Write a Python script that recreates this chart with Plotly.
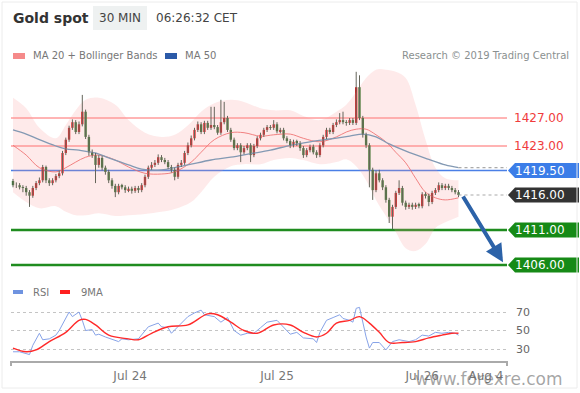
import plotly.graph_objects as go

W, H = 580, 393
FONT = "DejaVu Sans"

# ---------------- data ----------------
first_open = 1418.0
closes = [1417.4, 1417.4, 1417.1, 1417.0, 1416.4, 1415.9, 1417.0, 1417.7, 1418.1, 1420.0,
          1418.1, 1417.7, 1418.1, 1418.7, 1419.1, 1422.0, 1423.9, 1425.6, 1426.4, 1425.0,
          1426.1, 1427.9, 1424.3, 1422.1, 1421.7, 1420.3, 1421.3, 1419.9, 1419.3, 1418.1,
          1417.3, 1416.4, 1417.3, 1417.1, 1416.7, 1416.9, 1416.6, 1417.0, 1416.7, 1417.4,
          1418.6, 1419.9, 1420.3, 1420.6, 1421.4, 1421.0, 1420.7, 1420.0, 1419.6, 1418.6,
          1420.3, 1420.6, 1422.0, 1423.1, 1424.1, 1425.3, 1426.1, 1425.0, 1426.3, 1425.6,
          1426.0, 1425.7, 1424.9, 1426.4, 1427.0, 1425.3, 1423.9, 1422.7, 1423.1, 1422.1,
          1422.7, 1423.1, 1421.7, 1423.0, 1424.1, 1424.6, 1425.3, 1425.7, 1425.6, 1426.1,
          1425.1, 1425.3, 1424.1, 1423.7, 1423.1, 1423.6, 1423.4, 1422.7, 1421.7, 1422.4,
          1422.9, 1422.1, 1421.7, 1423.1, 1424.3, 1425.3, 1425.0, 1426.0, 1426.4, 1426.7,
          1426.4, 1426.3, 1426.7, 1426.3, 1431.4, 1427.0, 1424.6, 1423.1, 1419.6, 1416.7,
          1419.1, 1418.1, 1417.1, 1415.3, 1412.9, 1414.3, 1416.3, 1417.0, 1414.9, 1414.3,
          1414.6, 1414.3, 1414.6, 1414.4, 1416.1, 1415.9, 1415.0, 1416.3, 1416.7, 1417.4,
          1417.0, 1417.3, 1417.0, 1416.7, 1416.4, 1416.0]
highs = [1418.3, 1417.8, 1417.7, 1417.4, 1417.3, 1416.7, 1417.3, 1418.0, 1418.5, 1420.3,
         1420.2, 1418.4, 1418.4, 1419.0, 1419.5, 1422.3, 1424.2, 1425.9, 1426.8, 1426.7,
         1426.5, 1430.3, 1428.2, 1424.6, 1422.5, 1422.0, 1421.7, 1421.6, 1420.2, 1419.6,
         1418.4, 1417.6, 1417.6, 1417.6, 1417.4, 1417.2, 1417.2, 1417.3, 1417.3, 1417.7,
         1418.9, 1420.2, 1420.7, 1421.0, 1421.8, 1421.7, 1421.3, 1421.0, 1420.3, 1419.9,
         1420.6, 1421.0, 1422.3, 1423.5, 1424.5, 1425.6, 1426.5, 1426.4, 1426.6, 1426.6,
         1428.6, 1428.6, 1426.0, 1429.6, 1429.3, 1427.3, 1425.6, 1424.2, 1423.4, 1423.4,
         1423.0, 1423.4, 1423.4, 1423.3, 1424.4, 1424.9, 1425.6, 1426.0, 1426.0, 1426.7,
         1426.4, 1425.6, 1425.6, 1424.4, 1424.0, 1423.9, 1423.9, 1423.7, 1423.0, 1422.7,
         1423.2, 1423.2, 1422.4, 1423.4, 1424.6, 1425.6, 1425.6, 1426.3, 1426.8, 1427.7,
         1427.9, 1426.7, 1427.0, 1427.0, 1433.6, 1433.1, 1427.3, 1424.9, 1423.4, 1419.9,
         1419.5, 1419.6, 1418.4, 1417.4, 1415.6, 1414.6, 1416.6, 1418.1, 1417.3, 1415.2,
         1414.9, 1414.9, 1414.9, 1414.9, 1416.4, 1416.4, 1416.2, 1416.6, 1417.0, 1417.8,
         1417.7, 1417.6, 1417.6, 1417.3, 1417.0, 1416.7]
lows = [1417.1, 1417.0, 1416.8, 1416.4, 1415.9, 1414.3, 1415.6, 1416.7, 1417.4, 1417.8,
        1417.7, 1417.3, 1417.4, 1417.8, 1418.4, 1418.8, 1421.7, 1423.6, 1425.3, 1424.7,
        1424.7, 1425.8, 1424.0, 1421.6, 1421.3, 1417.7, 1419.9, 1419.5, 1418.9, 1417.7,
        1416.9, 1415.7, 1416.1, 1416.8, 1416.3, 1416.4, 1416.2, 1416.3, 1416.3, 1416.4,
        1417.1, 1418.3, 1419.6, 1420.0, 1420.3, 1420.7, 1420.4, 1419.7, 1419.2, 1418.1,
        1418.3, 1420.0, 1420.3, 1421.7, 1422.8, 1423.8, 1425.0, 1424.7, 1424.7, 1425.3,
        1425.3, 1425.4, 1424.6, 1424.6, 1426.1, 1425.0, 1423.6, 1422.4, 1422.4, 1420.7,
        1421.8, 1422.4, 1420.7, 1421.4, 1422.7, 1423.8, 1424.3, 1425.0, 1425.3, 1425.3,
        1424.8, 1424.8, 1423.8, 1423.4, 1422.7, 1422.8, 1423.0, 1422.3, 1421.3, 1421.4,
        1422.1, 1421.8, 1421.3, 1421.4, 1422.8, 1424.0, 1424.7, 1424.7, 1425.7, 1426.1,
        1426.1, 1425.9, 1426.0, 1426.0, 1426.0, 1426.7, 1424.2, 1422.7, 1417.1, 1415.3,
        1416.4, 1417.8, 1416.7, 1414.9, 1412.0, 1411.1, 1414.0, 1416.0, 1414.5, 1413.9,
        1414.0, 1413.9, 1414.0, 1414.1, 1414.1, 1415.5, 1414.4, 1414.7, 1416.0, 1416.4,
        1416.7, 1416.7, 1416.7, 1416.4, 1416.1, 1415.7]

band_idx = [0, 4, 8, 13, 16, 19, 22, 26, 31, 35, 40, 45, 49, 54, 57, 61, 66, 70, 75, 79,
            84, 88, 93, 98, 101, 104, 107, 110, 113, 116, 119, 122, 125, 128, 131, 135]
ma20 = [1423.1, 1421.7, 1419.9, 1419.3, 1419.9, 1420.7, 1421.4, 1421.7, 1421.0, 1420.0,
        1419.1, 1419.0, 1419.3, 1420.7, 1422.1, 1423.9, 1424.9, 1424.9, 1424.4, 1424.6,
        1424.7, 1424.1, 1423.6, 1424.3, 1425.0, 1425.4, 1425.4, 1424.6, 1423.6, 1422.1,
        1420.6, 1418.4, 1416.4, 1415.6, 1415.3, 1415.6]
bb_upper = [1429.9, 1428.4, 1425.6, 1424.1, 1426.0, 1428.1, 1429.6, 1429.9, 1428.9, 1426.7,
            1424.9, 1424.3, 1424.6, 1426.4, 1427.9, 1429.1, 1429.6, 1429.3, 1428.4, 1428.1,
            1428.1, 1427.3, 1426.7, 1427.9, 1428.9, 1430.7, 1432.7, 1433.9, 1433.9, 1433.6,
            1432.7, 1428.9, 1423.9, 1419.9, 1418.4, 1418.1]
bb_lower = [1416.4, 1415.0, 1414.1, 1414.4, 1413.6, 1413.1, 1413.1, 1413.4, 1413.0, 1413.1,
            1413.3, 1413.6, 1414.0, 1415.0, 1416.4, 1418.6, 1420.1, 1420.4, 1420.4, 1421.0,
            1421.3, 1421.0, 1420.4, 1420.7, 1421.1, 1420.1, 1418.1, 1415.3, 1413.0, 1410.7,
            1408.4, 1408.0, 1409.0, 1411.3, 1412.1, 1412.9]

ma50_idx = [0, 4, 8, 13, 16, 20, 25, 29, 35, 39, 45, 49, 54, 60, 66, 72, 78, 84, 90, 96,
            102, 106, 110, 114, 120, 126, 131, 135]
ma50 = [1425.3, 1424.7, 1423.9, 1423.0, 1422.6, 1422.4, 1422.0, 1421.3, 1420.3, 1419.7,
        1419.6, 1419.9, 1420.4, 1421.0, 1421.4, 1421.9, 1422.4, 1423.1, 1423.6, 1424.0,
        1424.4, 1424.7, 1424.3, 1423.3, 1422.1, 1421.1, 1420.3, 1419.9]

rsi_idx = [0, 2, 5, 6, 8, 9, 11, 13, 14, 16, 17, 18, 20, 21, 22, 24, 25, 26, 28, 32,
           33, 35, 38, 41, 44, 45, 47, 48, 51, 53, 55, 57, 58, 61, 63, 65, 67, 69, 71, 73,
           75, 77, 80, 82, 84, 86, 88, 91, 92, 93, 95, 97, 99, 100, 102, 103, 104, 105, 106, 107,
           108, 109, 111, 113, 115, 117, 120, 122, 124, 126, 128, 130, 132, 134, 135]
rsi = [27, 27, 24, 34, 47, 40, 41, 45, 50, 64, 70, 65, 70, 61, 50, 51, 45, 46, 43, 38,
       41, 40, 41, 54, 58, 54, 53, 47, 58, 65, 69, 72, 67, 65, 59, 64, 50, 45, 47, 47,
       53, 59, 61, 54, 46, 48, 42, 41, 37, 48, 61, 64, 67, 63, 61, 59, 74, 75, 58, 43,
       31, 37, 37, 29, 38, 40, 38, 40, 45, 44, 48, 47, 48, 47, 45]
ma9_idx = [0, 4, 7, 11, 16, 20, 22, 25, 29, 35, 38, 42, 47, 53, 59, 62, 66, 70, 74, 79,
           84, 88, 92, 95, 98, 102, 105, 108, 111, 114, 118, 122, 126, 130, 133, 135]
rsi_ma9 = [31, 27, 29, 38, 48, 61, 62, 56, 45, 41, 40, 47, 54, 56, 68, 67, 59, 50, 47, 56,
           56, 48, 43, 47, 58, 61, 65, 58, 48, 37, 37, 38, 42, 45, 47, 47]
rsi_levels = [30, 50, 70]

levels = [1427.0, 1423.0, 1419.5, 1416.0, 1411.0, 1406.0]
level_labels = ["1427.00", "1423.00", "1419.50", "1416.00", "1411.00", "1406.00"]

tick_pos = [35.5, 80, 124, 143.3]
tick_text = ["Jul 24", "Jul 25", "Jul 26", "Aug 4"]

arrow_from = (136.1, 1416.0)
arrow_to = (148.5, 1406.4)

# ---------------- styling helpers ----------------
def px(x):
    return x / W

def py(y):
    return 1 - y / H

N = len(closes)
idx = list(range(N))
opens = [first_open] + closes[:-1]

UP = "#e3161b"
DOWN = "#2d7a2d"

fig = go.Figure()

# Bollinger band fill
fig.add_trace(go.Scatter(x=band_idx, y=bb_upper, mode="lines", line=dict(width=0, shape="spline"),
                         hoverinfo="skip", showlegend=False, xaxis="x", yaxis="y"))
fig.add_trace(go.Scatter(x=band_idx, y=bb_lower, mode="lines", line=dict(width=0, shape="spline"),
                         fill="tonexty", fillcolor="rgba(248,150,150,0.2)",
                         hoverinfo="skip", showlegend=False, xaxis="x", yaxis="y"))

# level lines (drawn under candles)
level_styles = [("#ff6a6a", 1), ("#ff9a9a", 1.6), ("#4a7fe6", 1.6), None, ("#1f8c1f", 2.6), ("#1f8c1f", 2.6)]
shapes = []
for lv, st in zip(levels, level_styles):
    if st is None:
        continue
    shapes.append(dict(type="line", xref="x domain", yref="y", x0=0, x1=1, y0=lv, y1=lv,
                       line=dict(color=st[0], width=st[1]), layer="below"))

# MA lines
fig.add_trace(go.Scatter(x=band_idx, y=ma20, mode="lines",
                         line=dict(color="rgba(238,110,110,0.85)", width=1, shape="spline"),
                         hoverinfo="skip", showlegend=False, xaxis="x", yaxis="y"))
fig.add_trace(go.Scatter(x=ma50_idx, y=ma50, mode="lines",
                         line=dict(color="#8399b3", width=1.3, shape="spline"),
                         hoverinfo="skip", showlegend=False, xaxis="x", yaxis="y"))

# wicks
wx, wy = [], []
for i in idx:
    wx += [i, i, None]
    wy += [lows[i], highs[i], None]
fig.add_trace(go.Scatter(x=wx, y=wy, mode="lines", line=dict(color="#65655a", width=1),
                         hoverinfo="skip", showlegend=False, xaxis="x", yaxis="y"))

# bodies
colors = [UP if c >= o else DOWN for o, c in zip(opens, closes)]
fig.add_trace(go.Bar(x=idx, y=[c - o for o, c in zip(opens, closes)], base=opens, width=0.72,
                     marker=dict(color=colors, line=dict(width=0)),
                     hoverinfo="skip", showlegend=False, xaxis="x", yaxis="y"))

# dotted extensions to labels
shapes.append(dict(type="line", xref="x", yref="y", x0=idx[-1], x1=149.7, y0=ma50[-1], y1=ma50[-1],
                   line=dict(color="#aaaaaa", width=1.2, dash="dot")))
shapes.append(dict(type="line", xref="x", yref="y", x0=idx[-1], x1=149.7, y0=closes[-1], y1=closes[-1],
                   line=dict(color="#aaaaaa", width=1.2, dash="dot")))

# RSI
fig.add_trace(go.Scatter(x=rsi_idx, y=rsi, mode="lines", line=dict(color="#87a3e8", width=1),
                         hoverinfo="skip", showlegend=False, xaxis="x2", yaxis="y2"))
fig.add_trace(go.Scatter(x=ma9_idx, y=rsi_ma9, mode="lines",
                         line=dict(color="#ff2a2a", width=1.4, shape="spline"),
                         hoverinfo="skip", showlegend=False, xaxis="x2", yaxis="y2"))

annotations = []

# right labels
half = 1.08
box_colors = [None, None, "#3b7de8", "#333333", "#168a16", "#168a16"]
for lv, lab, bc in zip(levels, level_labels, box_colors):
    if bc is None:
        annotations.append(dict(xref="paper", yref="y", x=px(539), y=lv, text=lab, showarrow=False,
                                font=dict(family=FONT, size=12, color="#f03c3c"), xanchor="center"))
    else:
        path = (f"M {px(508)} {lv} L {px(515)} {lv + half} L {px(579)} {lv + half} "
                f"L {px(579)} {lv - half} L {px(515)} {lv - half} Z")
        shapes.append(dict(type="path", xref="paper", yref="y", path=path, fillcolor=bc,
                           line=dict(width=0)))
        annotations.append(dict(xref="paper", yref="y", x=px(540), y=lv, text=lab, showarrow=False,
                                font=dict(family=FONT, size=12, color="white"), xanchor="center"))

# forecast arrow
annotations.append(dict(xref="x", yref="y", axref="x", ayref="y", x=arrow_to[0], y=arrow_to[1],
                        ax=arrow_from[0], ay=arrow_from[1], showarrow=True, arrowhead=2,
                        arrowsize=0.9, arrowwidth=4, arrowcolor="#2c62a8", text=""))

# header
shapes.append(dict(type="rect", xref="paper", yref="paper", x0=px(93), x1=px(147), y0=py(30), y1=py(6),
                   fillcolor="#eef1f1", line=dict(width=0)))
annotations += [
    dict(xref="paper", yref="paper", x=px(11), y=py(18), text="<b>Gold spot</b>", showarrow=False,
         xanchor="left", yanchor="middle", font=dict(family=FONT, size=14, color="#333333")),
    dict(xref="paper", yref="paper", x=px(120), y=py(18), text="30 MIN", showarrow=False,
         xanchor="center", yanchor="middle", font=dict(family=FONT, size=12, color="#444444")),
    dict(xref="paper", yref="paper", x=px(154), y=py(18), text="06:26:32 CET", showarrow=False,
         xanchor="left", yanchor="middle", font=dict(family=FONT, size=12, color="#444444")),
    dict(xref="paper", yref="paper", x=px(31), y=py(56), text="MA 20 + Bollinger Bands", showarrow=False,
         xanchor="left", yanchor="middle", font=dict(family=FONT, size=10, color="#777777")),
    dict(xref="paper", yref="paper", x=px(183), y=py(56), text="MA 50", showarrow=False,
         xanchor="left", yanchor="middle", font=dict(family=FONT, size=10, color="#777777")),
    dict(xref="paper", yref="paper", x=px(571), y=py(56), text="Research © 2019 Trading Central",
         showarrow=False, xanchor="right", yanchor="middle",
         font=dict(family=FONT, size=10, color="#8a9090")),
    dict(xref="paper", yref="paper", x=px(31), y=py(292), text="RSI", showarrow=False,
         xanchor="left", yanchor="middle", font=dict(family=FONT, size=10, color="#777777")),
    dict(xref="paper", yref="paper", x=px(79), y=py(292), text="9MA", showarrow=False,
         xanchor="left", yanchor="middle", font=dict(family=FONT, size=10, color="#777777")),
    dict(xref="paper", yref="paper", x=px(489), y=py(379), text="www.forexre.com", showarrow=False,
         xanchor="center", yanchor="middle",
         font=dict(family=FONT, size=17, color="rgba(105,105,105,0.6)")),
]
for x0, x1, y0, y1, c in [(13, 25, 53, 59, "#f58a8a"), (165, 177, 53, 59, "#2b5aa8"),
                          (13, 23, 290, 294, "#6f93e0"), (60, 70, 290, 294, "#ff2020")]:
    shapes.append(dict(type="rect", xref="paper", yref="paper", x0=px(x0), x1=px(x1), y0=py(y1), y1=py(y0),
                       fillcolor=c, line=dict(width=0)))

# axis end ticks + frame
for xx in (11, 507):
    shapes.append(dict(type="line", xref="paper", yref="paper", x0=px(xx), x1=px(xx), y0=py(361), y1=py(366),
                       line=dict(color="#aaaaaa", width=2)))
shapes.append(dict(type="rect", xref="paper", yref="paper", x0=px(2), x1=px(577), y0=py(388), y1=py(2),
                   line=dict(color="#ececec", width=1)))

x_range = [(11 - 13) / 3.3, (507 - 13) / 3.3]
xdom = [px(11), px(507)]

fig.update_layout(
    width=W, height=H, margin=dict(l=0, r=0, t=0, b=0),
    paper_bgcolor="white", plot_bgcolor="rgba(0,0,0,0)",
    barmode="overlay", showlegend=False,
    xaxis=dict(domain=xdom, range=x_range, visible=False, fixedrange=True),
    yaxis=dict(domain=[py(275), py(65)], range=[1404.571, 1434.571], visible=False),
    xaxis2=dict(domain=xdom, range=x_range, anchor="y2", showgrid=False, zeroline=False,
                showline=True, linecolor="#aaaaaa", linewidth=2, ticks="",
                tickvals=tick_pos, ticktext=tick_text, ticklabelstandoff=3,
                tickfont=dict(family=FONT, size=12, color="#777777")),
    yaxis2=dict(domain=[py(361), py(290)], range=[17.03, 93.78], anchor="x2", side="right",
                tickvals=rsi_levels, showgrid=True, gridcolor="#c4c4c4", griddash="dot", gridwidth=1,
                zeroline=False, showline=False, ticks="", ticklabelstandoff=8,
                tickfont=dict(family=FONT, size=11, color="#666666")),
    shapes=shapes, annotations=annotations,
)

fig.write_html("out.html", config={"displayModeBar": False},
               post_script="document.body.style.margin='0';document.body.style.overflow='hidden';")
